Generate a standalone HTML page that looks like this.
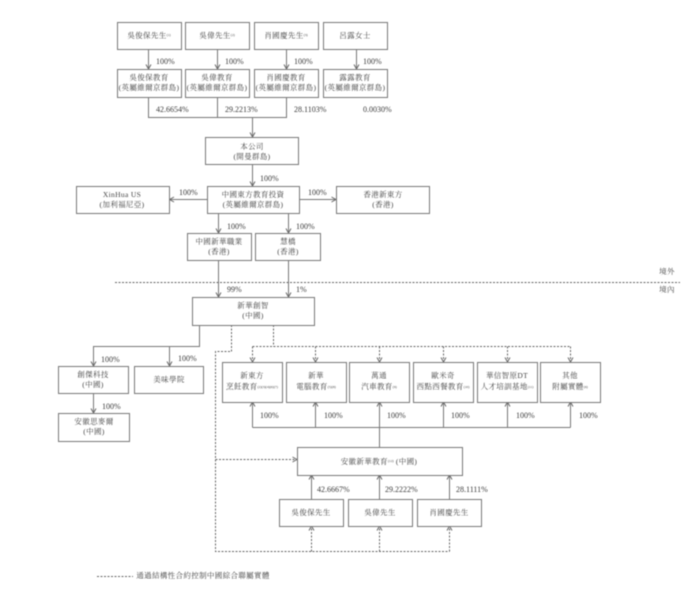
<!DOCTYPE html>
<html>
<head>
<meta charset="utf-8">
<style>
html,body{margin:0;padding:0;background:#fff;width:700px;height:600px;overflow:hidden}
svg{display:block;filter:blur(0.45px)}
text{font-family:"Liberation Serif","Noto Serif CJK SC",serif;font-size:7.5px;fill:#444;text-anchor:middle;letter-spacing:.35px}
.p{font-size:8px;text-anchor:start;fill:#3c3c3c;letter-spacing:0}
.s{font-size:3.5px;letter-spacing:0}
rect{fill:#fff;stroke:#777;stroke-width:1}
.l{fill:none;stroke:#777;stroke-width:1}
.d{fill:none;stroke:#666;stroke-width:1;stroke-dasharray:2 1.5}
</style>
</head>
<body>
<svg width="700" height="600" viewBox="0 0 700 600" xmlns="http://www.w3.org/2000/svg">
<defs>
<marker id="a" markerWidth="7" markerHeight="7" refX="5.5" refY="3" orient="auto" markerUnits="userSpaceOnUse"><path d="M1 .5L5.5 3L1 5.500" fill="none" stroke="#666" stroke-width="1"/></marker>
</defs>

<!-- solid connectors -->
<g class="l">
<path class="l" d="M148.500 49V69" marker-end="url(#a)"/>
<path class="l" d="M217.500 49V69" marker-end="url(#a)"/>
<path class="l" d="M286.500 49V69" marker-end="url(#a)"/>
<path class="l" d="M356.500 49V69" marker-end="url(#a)"/>
<path class="l" d="M148.500 97V117.500H286.500V97M217.500 97V117.500"/>
<path class="l" d="M252.500 117V137" marker-end="url(#a)"/>
<path class="l" d="M252.500 164V186" marker-end="url(#a)"/>
<path class="l" d="M207 199.500H169.500" marker-end="url(#a)"/>
<path class="l" d="M299 199.500H336" marker-end="url(#a)"/>
<path class="l" d="M218.500 213V233" marker-end="url(#a)"/>
<path class="l" d="M288.500 213V233" marker-end="url(#a)"/>
<path class="l" d="M218.500 260V297" marker-end="url(#a)"/>
<path class="l" d="M288.500 260V297" marker-end="url(#a)"/>
<path class="l" d="M199.500 325V346.500H93.500V366" marker-end="url(#a)"/>
<path class="l" d="M169.500 346.500V366" marker-end="url(#a)"/>
<path class="l" d="M93.500 393V413" marker-end="url(#a)"/>
<path class="l" d="M252.500 427.500V402" marker-end="url(#a)"/>
<path class="l" d="M315.500 427.500V402" marker-end="url(#a)"/>
<path class="l" d="M379.500 447V402" marker-end="url(#a)"/>
<path class="l" d="M443.500 427.500V402" marker-end="url(#a)"/>
<path class="l" d="M507.500 427.500V402" marker-end="url(#a)"/>
<path class="l" d="M570.500 427.500V402" marker-end="url(#a)"/>
<path class="l" d="M252.500 427.500H570.500"/>
<path class="l" d="M311.500 499V475" marker-end="url(#a)"/>
<path class="l" d="M379.500 499V475" marker-end="url(#a)"/>
<path class="l" d="M449.500 499V475" marker-end="url(#a)"/>
</g>

<!-- dotted connectors -->
<path class="d" d="M115 282.500H680" stroke-dasharray="2 1.500"/>
<path class="d" d="M231.500 325V351.500H215.500V551.500H449.500"/>
<path class="d" d="M273.500 325V346.500"/>
<path class="d" d="M252.500 346.500H570.500"/>
<path class="d" d="M252.500 346.500V362" marker-end="url(#a)"/>
<path class="d" d="M315.500 346.500V362" marker-end="url(#a)"/>
<path class="d" d="M379.500 346.500V362" marker-end="url(#a)"/>
<path class="d" d="M443.500 346.500V362" marker-end="url(#a)"/>
<path class="d" d="M507.500 346.500V362" marker-end="url(#a)"/>
<path class="d" d="M570.500 346.500V362" marker-end="url(#a)"/>
<path class="d" d="M215.500 459.500H297" marker-end="url(#a)"/>
<path class="d" d="M311.500 551.500V526" marker-end="url(#a)"/>
<path class="d" d="M379.500 551.500V526" marker-end="url(#a)"/>
<path class="d" d="M449.500 551.500V526" marker-end="url(#a)"/>
<path class="d" d="M97 576.500H133"/>

<!-- boxes -->
<rect x="117.500" y="22.500" width="64" height="27"/>
<rect x="185.500" y="22.500" width="64" height="27"/>
<rect x="254.500" y="22.500" width="64" height="27"/>
<rect x="323.500" y="22.500" width="64" height="27"/>
<rect x="117.500" y="69.500" width="64" height="28"/>
<rect x="185.500" y="69.500" width="64" height="28"/>
<rect x="254.500" y="69.500" width="64" height="28"/>
<rect x="323.500" y="69.500" width="64" height="28"/>
<rect x="205.500" y="137.500" width="93" height="27"/>
<rect x="76.500" y="186.500" width="93" height="27"/>
<rect x="207.500" y="186.500" width="92" height="27"/>
<rect x="336.500" y="186.500" width="93" height="27"/>
<rect x="187.500" y="233.500" width="64" height="27"/>
<rect x="255.500" y="233.500" width="65" height="27"/>
<rect x="192.500" y="297.500" width="122" height="28"/>
<rect x="58.500" y="366.500" width="70" height="27"/>
<rect x="134.500" y="366.500" width="69" height="27"/>
<rect x="58.500" y="413.500" width="71" height="28"/>
<rect x="222.500" y="362.500" width="60" height="40"/>
<rect x="286.500" y="362.500" width="60" height="40"/>
<rect x="349.500" y="362.500" width="60" height="40"/>
<rect x="413.500" y="362.500" width="60" height="40"/>
<rect x="477.500" y="362.500" width="60" height="40"/>
<rect x="540.500" y="362.500" width="60" height="40"/>
<rect x="297.500" y="447.500" width="165" height="28"/>
<rect x="279.500" y="499.500" width="64" height="27"/>
<rect x="348.500" y="499.500" width="64" height="27"/>
<rect x="417.500" y="499.500" width="64" height="27"/>

<!-- box labels -->
<text x="149" y="38">吳俊保先生<tspan class="s" dy="-2">(1)</tspan></text>
<text x="217" y="38">吳偉先生<tspan class="s" dy="-2">(2)</tspan></text>
<text x="286" y="38">肖國慶先生<tspan class="s" dy="-2">(3)</tspan></text>
<text x="355" y="38">呂露女士</text>
<text x="149" y="80">吳俊保教育</text>
<text x="149" y="90">(英屬維爾京群島)</text>
<text x="217" y="80">吳偉教育</text>
<text x="217" y="90">(英屬維爾京群島)</text>
<text x="286" y="80">肖國慶教育</text>
<text x="286" y="90">(英屬維爾京群島)</text>
<text x="355" y="80">露露教育</text>
<text x="355" y="90">(英屬維爾京群島)</text>
<text x="252" y="149">本公司</text>
<text x="252" y="159">(開曼群島)</text>
<text x="122" y="197">XinHua US</text>
<text x="122" y="207">(加利福尼亞)</text>
<text x="253" y="197">中國東方教育投資</text>
<text x="253" y="207">(英屬維爾京群島)</text>
<text x="383" y="197">香港新東方</text>
<text x="383" y="207">(香港)</text>
<text x="219" y="244">中國新華職業</text>
<text x="219" y="254">(香港)</text>
<text x="288" y="244">慧橋</text>
<text x="288" y="254">(香港)</text>
<text x="253" y="308">新華創智</text>
<text x="253" y="318">(中國)</text>
<text x="93" y="377">創傑科技</text>
<text x="93" y="387">(中國)</text>
<text x="169" y="382">美味學院</text>
<text x="94" y="424">安徽思麥爾</text>
<text x="94" y="434">(中國)</text>
<text x="252" y="378">新東方</text>
<text x="252" y="389">烹飪教育<tspan class="s" dy="-1">(2)(3)(4)(6)(7)</tspan></text>
<text x="316" y="378">新華</text>
<text x="316" y="389">電腦教育<tspan class="s" dy="-1">(5)(8)</tspan></text>
<text x="379" y="378">萬通</text>
<text x="379" y="389">汽車教育<tspan class="s" dy="-1">(9)</tspan></text>
<text x="443" y="378">歐米奇</text>
<text x="443" y="389">西點西餐教育<tspan class="s" dy="-1">(10)</tspan></text>
<text x="507" y="378">華信智原DT</text>
<text x="507" y="389">人才培訓基地<tspan class="s" dy="-1">(11)</tspan></text>
<text x="570" y="378">其他</text>
<text x="570" y="389">附屬實體<tspan class="s" dy="-1">(6)</tspan></text>
<text x="379" y="464">安徽新華教育<tspan class="s" dy="-2">(12)</tspan><tspan dy="2"> (中國)</tspan></text>
<text x="311" y="515">吳俊保先生</text>
<text x="380" y="515">吳偉先生</text>
<text x="449" y="515">肖國慶先生</text>

<!-- percent labels -->
<text class="p" x="156" y="64">100%</text>
<text class="p" x="225" y="64">100%</text>
<text class="p" x="294" y="64">100%</text>
<text class="p" x="363" y="64">100%</text>
<text class="p" x="156" y="112">42.6654%</text>
<text class="p" x="225" y="112">29.2213%</text>
<text class="p" x="294" y="112">28.1103%</text>
<text class="p" x="363" y="112">0.0030%</text>
<text class="p" x="260" y="181">100%</text>
<text class="p" x="179" y="195">100%</text>
<text class="p" x="308" y="195">100%</text>
<text class="p" x="227" y="229">100%</text>
<text class="p" x="296" y="229">100%</text>
<text class="p" x="227" y="292">99%</text>
<text class="p" x="296" y="292">1%</text>
<text class="p" x="101" y="362">100%</text>
<text class="p" x="178" y="361">100%</text>
<text class="p" x="102" y="409">100%</text>
<text class="p" x="260" y="418">100%</text>
<text class="p" x="324" y="418">100%</text>
<text class="p" x="387" y="418">100%</text>
<text class="p" x="451" y="418">100%</text>
<text class="p" x="516" y="418">100%</text>
<text class="p" x="579" y="418">100%</text>
<text class="p" x="317" y="492">42.6667%</text>
<text class="p" x="385" y="492">29.2222%</text>
<text class="p" x="456" y="492">28.1111%</text>

<!-- region and legend -->
<text x="667" y="274">境外</text>
<text x="667" y="292">境內</text>
<text x="203" y="578">通過結構性合約控制中國綜合聯屬實體</text>
</svg>
</body>
</html>
